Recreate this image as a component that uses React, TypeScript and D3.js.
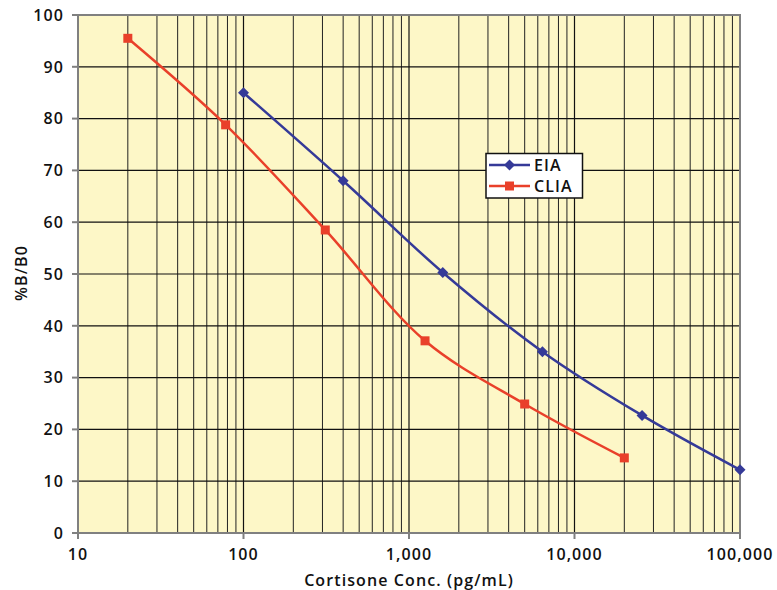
import React from "react";
import * as d3 from "d3";

const eiaX = [100, 400, 1600, 6400, 25600, 100000];
const eiaY = [85, 68, 50.3, 35, 22.7, 12.2];
const cliaX = [20, 78, 312, 1250, 5000, 20000];
const cliaY = [95.5, 78.8, 58.5, 37.1, 24.9, 14.5];
const yTicks = [0, 10, 20, 30, 40, 50, 60, 70, 80, 90, 100];
const xTicks = [10, 100, 1000, 10000, 100000];

const W = 777, H = 590;
const L = 78, R = 740, T = 15, B = 533;
const FONT = "'Open Sans', sans-serif";
const LS = 1.1;

export default function App() {
  const x = d3.scaleLog().domain([10, 100000]).range([L, R]);
  const y = d3.scaleLinear().domain([0, 100]).range([B, T]);
  const minor: number[] = [];
  for (let e = 1; e < 5; e++) for (let m = 2; m <= 9; m++) minor.push(m * Math.pow(10, e));
  const line = d3.line<[number, number]>().x(d => x(d[0])).y(d => y(d[1])).curve(d3.curveCatmullRom.alpha(0.5));
  const eia = eiaX.map((v, i) => [v, eiaY[i]] as [number, number]);
  const clia = cliaX.map((v, i) => [v, cliaY[i]] as [number, number]);
  const blue = "#353A98";
  const red = "#E9402A";
  const fmt = d3.format(",");
  const diamond = (cx: number, cy: number, r: number) => `M${cx},${cy - r}L${cx + r},${cy}L${cx},${cy + r}L${cx - r},${cy}Z`;
  const txt = { fontFamily: FONT, fontWeight: 600, fontSize: 16, fill: "#111", letterSpacing: LS } as any;
  return (
    <svg width={W} height={H} style={{ position: "absolute", left: 0, top: 0 }}>
      <rect x={0} y={0} width={W} height={H} fill="#fff" />
      <rect x={L} y={T} width={R - L} height={B - T} fill="#FDF7C7" />
      {minor.map(v => (
        <line key={"m" + v} x1={x(v)} x2={x(v)} y1={T} y2={B} stroke="#222" strokeWidth={1} />
      ))}
      {xTicks.map(v => (
        <line key={"M" + v} x1={x(v)} x2={x(v)} y1={T} y2={B} stroke="#111" strokeWidth={1.2} />
      ))}
      {yTicks.map(v => (
        <line key={"h" + v} x1={L} x2={R} y1={y(v)} y2={y(v)} stroke="#111" strokeWidth={1.2} />
      ))}
      <rect x={L} y={T} width={R - L} height={B - T} fill="none" stroke="#808080" strokeWidth={2} />
      {yTicks.map(v => (
        <g key={"yt" + v}>
          <line x1={L - 6} x2={L} y1={y(v)} y2={y(v)} stroke="#808080" strokeWidth={2} />
          <text x={L - 14} y={y(v)} dy="0.36em" textAnchor="end" {...txt}>{v}</text>
        </g>
      ))}
      {xTicks.map(v => (
        <g key={"xt" + v}>
          <line x1={x(v)} x2={x(v)} y1={B} y2={B + 6} stroke="#808080" strokeWidth={2} />
          <text x={x(v)} y={B + 27} textAnchor="middle" {...txt}>{fmt(v)}</text>
        </g>
      ))}
      <text x={409} y={585.5} textAnchor="middle" {...txt}>Cortisone Conc. (pg/mL)</text>
      <text transform={`translate(27,273) rotate(-90)`} textAnchor="middle" {...txt}>%B/B0</text>
      <path d={line(clia) || ""} fill="none" stroke={red} strokeWidth={2.5} />
      <path d={line(eia) || ""} fill="none" stroke={blue} strokeWidth={2.5} />
      {clia.map((d, i) => (
        <rect key={"c" + i} x={x(d[0]) - 4.5} y={y(d[1]) - 4.5} width={9} height={9} fill={red} />
      ))}
      {eia.map((d, i) => (
        <path key={"e" + i} d={diamond(x(d[0]), y(d[1]), 5.5)} fill={blue} />
      ))}
      <g>
        <rect x={486} y={153.5} width={96.5} height={44.5} fill="#fff" stroke="#111" strokeWidth={1.5} />
        <line x1={489} x2={530} y1={165} y2={165} stroke={blue} strokeWidth={2.5} />
        <path d={diamond(509.5, 165, 5.5)} fill={blue} />
        <text x={534} y={165} dy="0.36em" {...txt}>EIA</text>
        <line x1={489} x2={530} y1={186} y2={186} stroke={red} strokeWidth={2.5} />
        <rect x={505} y={181.5} width={9} height={9} fill={red} />
        <text x={534} y={186} dy="0.36em" {...txt}>CLIA</text>
      </g>
    </svg>
  );
}
